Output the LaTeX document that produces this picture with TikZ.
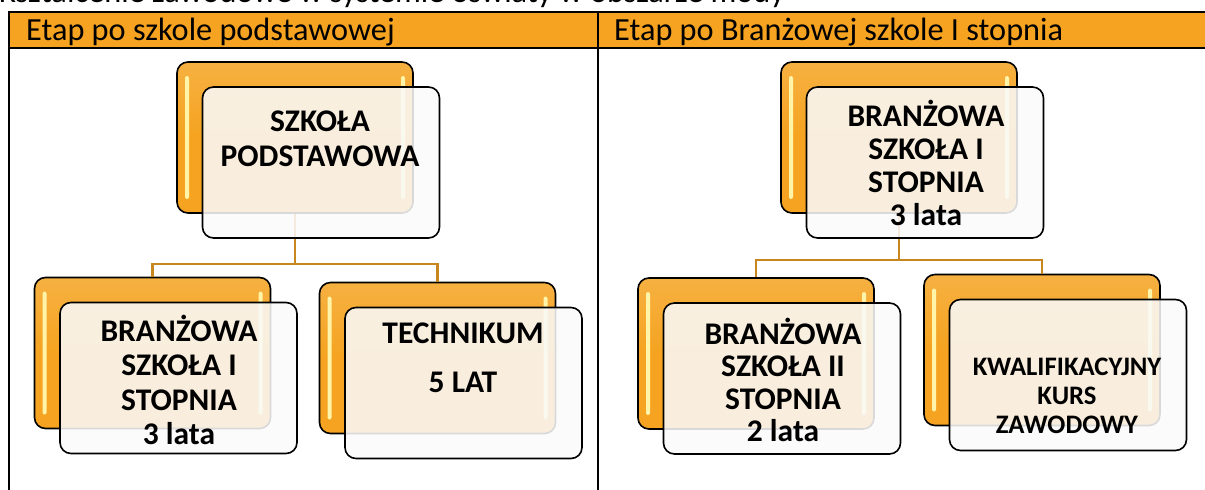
\documentclass[tikz,border=0pt]{standalone}
\usepackage{fontspec}
\setmainfont{Carlito}
\usetikzlibrary{positioning,calc}
\newcommand{\OFFX}{26}
\newcommand{\OFFY}{25}
\definecolor{myorange}{HTML}{F5A320}
\definecolor{myshine}{HTML}{FFF4A8}
\definecolor{myline}{HTML}{C8861E}

\begin{document}
\begin{tikzpicture}[x=1pt,y=-1pt,
    backbox/.style={draw=black,line width=1.6pt,rounded corners=11pt,
      top color=myorange!85!white,bottom color=myorange,middle color=myorange,
      minimum width=236pt,minimum height=151pt,inner sep=0pt,
      path picture={
        \fill[myshine,rounded corners=2pt] ([xshift=8pt,yshift=-14pt]path picture bounding box.north west) rectangle ([xshift=12pt,yshift=14pt]path picture bounding box.south west);
        \fill[myshine,rounded corners=2pt] ([xshift=-12pt,yshift=-14pt]path picture bounding box.north east) rectangle ([xshift=-8pt,yshift=14pt]path picture bounding box.south east);
      }},
    frontbox/.style={draw=black,line width=1.6pt,rounded corners=11pt,
      fill=white!98!black,fill opacity=0.87,
      minimum width=237pt,minimum height=151pt,inner sep=0pt},
    conn/.style={myline,line width=2.2pt},
    boxtext/.style={align=center,font=\bfseries\fontsize{31.5}{34.5}\selectfont},
    headtext/.style={anchor=base west,inner sep=0pt,font=\fontsize{32.3}{36}\selectfont}]

    \useasboundingbox (0,0) rectangle (1205,490);

    % title line, cut by the page edge
    \node[headtext] (title) at (-1,2.5) {Kształcenie zawodowe w systemie oświaty w obszarze mody};

    % table
    \fill[myorange] (9,12) rectangle (1205,48);
    \draw[line width=1.6pt] (9,490) -- (9,12) -- (1205,12);
    \draw[line width=1.6pt] (9,48) -- (1205,48);
    \draw[line width=1.6pt] (598,12) -- (598,490);
    \node[headtext] (head1) at (26,40) {Etap po szkole podstawowej};
    \node[headtext] (head2) at (614,40) {Etap po Branżowej szkole I stopnia};

    \foreach \n/\x/\y in {sp/295/137.5,bs1/152.5/353,tech/437.5/358,bs1b/899/137.5,bs2/756/353.5,kkz/1042/350}{
      \node[backbox] (\n) at (\x,\y) {};
    }

    \coordinate (j1) at (295,264);
    \coordinate (j2) at (899,260);
    \draw[conn] (sp.south) -- (j1);
    \draw[conn] (j1) -| (bs1.north);
    \draw[conn] (j1) -| (tech.north);
    \draw[conn] (bs1b.south) -- (j2);
    \draw[conn] (j2) -| (bs2.north);
    \draw[conn] (j2) -| (kkz.north);

    \foreach \n in {sp,bs1,tech,bs1b,bs2,kkz}{
      \node[frontbox] (\n-f) at ($(\n)+(\OFFX,\OFFY)$) {};
    }

    \node[boxtext] (sp-t) at (320,139) {SZKOŁA\\PODSTAWOWA};
    \node[boxtext] (bs1-t) at (179,380) {BRANŻOWA\\SZKOŁA I\\STOPNIA\\3 lata};
    \node[boxtext] (tech-t) at (463,358) {TECHNIKUM\\[15pt]5 LAT};
    \node[boxtext,font=\bfseries\fontsize{31.5}{33}\selectfont] (bs1b-t) at (926,163) {BRANŻOWA\\SZKOŁA I\\STOPNIA\\3 lata};
    \node[boxtext,font=\bfseries\fontsize{31.5}{32.5}\selectfont] (bs2-t) at (783,380) {BRANŻOWA\\SZKOŁA II\\STOPNIA\\2 lata};
    \node[boxtext,font=\bfseries\fontsize{26.7}{29}\selectfont] (kkz-t) at (1067,396) {KWALIFIKACYJNY\\KURS\\ZAWODOWY};

\end{tikzpicture}
\end{document}
